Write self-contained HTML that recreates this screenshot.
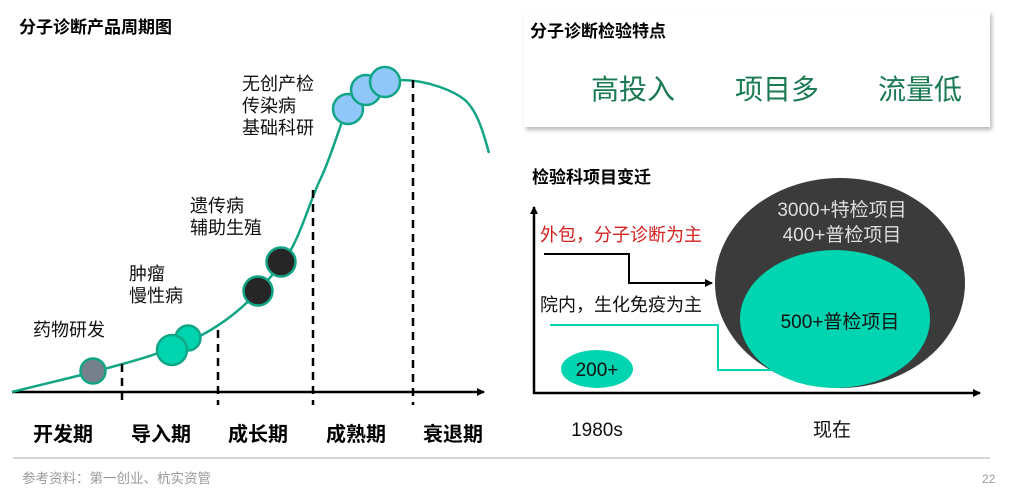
<!DOCTYPE html>
<html><head><meta charset="utf-8"><style>
html,body{margin:0;padding:0;background:#fff;width:1024px;height:496px;overflow:hidden}
svg text{font-family:"Liberation Sans","Noto Sans CJK SC",sans-serif}
</style></head><body>
<svg width="1024" height="496" viewBox="0 0 1024 496" xmlns="http://www.w3.org/2000/svg">
<defs>
<marker id="ah" markerWidth="8" markerHeight="8" refX="7" refY="4" orient="auto" markerUnits="userSpaceOnUse"><path d="M0,0 L8,4 L0,8 z" fill="#000"/></marker>
<filter id="sh" x="-5%" y="-10%" width="110%" height="130%"><feDropShadow dx="2" dy="3" stdDeviation="2" flood-color="#888" flood-opacity="0.6"/></filter>
</defs>
<text x="19" y="33" font-size="17" font-weight="bold">分子诊断产品周期图</text>
<line x1="12" y1="392" x2="484" y2="392" stroke="#000" stroke-width="2.5" marker-end="url(#ah)"/>
<path d="M12,392 C40,385 70,378 93,372 C130,362 160,355 200,336 C240,315 260,290 283,262 C300,240 310,200 320,180 C330,160 340,125 350,100 C360,85 380,80 400,80 C430,80 455,92 465,100 C478,112 484,135 489,153" fill="none" stroke="#12a585" stroke-width="2.5"/>
<g stroke="#000" stroke-width="2.5" stroke-dasharray="8,6">
<line x1="122" y1="364" x2="122" y2="405"/>
<line x1="218" y1="330" x2="218" y2="405"/>
<line x1="313" y1="190" x2="313" y2="405"/>
<line x1="413" y1="80" x2="413" y2="405"/>
</g>
<g stroke="#12a585" stroke-width="2.5">
<circle cx="93" cy="371" r="12.5" fill="#76808c"/>
<circle cx="188" cy="338" r="12.5" fill="#00d4ae"/>
<circle cx="172" cy="350" r="15" fill="#00d4ae"/>
<circle cx="258" cy="291" r="14.5" fill="#262626"/>
<circle cx="281" cy="262" r="14.5" fill="#262626"/>
<circle cx="348" cy="109" r="15" fill="#8fc8f8"/>
<circle cx="366" cy="90" r="15" fill="#8fc8f8"/>
<circle cx="385" cy="82" r="15" fill="#8fc8f8"/>
</g>
<g font-size="18" fill="#111">
<text x="33" y="336">药物研发</text>
<text x="129" y="280">肿瘤</text>
<text x="129" y="302">慢性病</text>
<text x="190" y="212">遗传病</text>
<text x="190" y="234">辅助生殖</text>
<text x="242" y="90">无创产检</text>
<text x="242" y="112">传染病</text>
<text x="242" y="134">基础科研</text>
</g>
<g font-size="20" font-weight="bold">
<text x="33" y="441">开发期</text>
<text x="131" y="441">导入期</text>
<text x="228" y="441">成长期</text>
<text x="326" y="441">成熟期</text>
<text x="423" y="441">衰退期</text>
</g>
<line x1="13" y1="458" x2="990" y2="458" stroke="#aab0bb" stroke-width="1"/>
<text x="22" y="483" font-size="13.5" fill="#999">参考资料：第一创业、杭实资管</text>
<text x="982" y="483" font-size="12" fill="#999">22</text>

<rect x="524" y="11" width="466" height="116" fill="#fff" filter="url(#sh)"/>
<text x="530" y="37" font-size="17" font-weight="bold">分子诊断检验特点</text>
<g font-size="28" fill="#1a7a52" text-anchor="middle">
<text x="633" y="99">高投入</text>
<text x="777" y="99">项目多</text>
<text x="920" y="99">流量低</text>
</g>

<text x="532" y="183" font-size="17" font-weight="bold">检验科项目变迁</text>
<line x1="534" y1="394" x2="534" y2="207" stroke="#000" stroke-width="2.5" marker-end="url(#ah)"/>
<line x1="533" y1="393" x2="980" y2="393" stroke="#000" stroke-width="2.5" marker-end="url(#ah)"/>
<ellipse cx="840" cy="283" rx="125" ry="105" fill="#3b3b3b"/>
<ellipse cx="835" cy="319" rx="95" ry="69" fill="#00d4b0"/>
<text x="842" y="216" font-size="19" fill="#ddd" text-anchor="middle">3000+特检项目</text>
<text x="842" y="241" font-size="19" fill="#ddd" text-anchor="middle">400+普检项目</text>
<text x="840" y="328" font-size="19" fill="#111" text-anchor="middle">500+普检项目</text>
<text x="540" y="241" font-size="18" fill="#d42020">外包，分子诊断为主</text>
<polyline points="544,254 629,254 629,283 712,283" fill="none" stroke="#000" stroke-width="2" marker-end="url(#ah)"/>
<text x="540" y="311" font-size="18" fill="#111">院内，生化免疫为主</text>
<polyline points="550,325 718,325 718,370 775,370" fill="none" stroke="#00d4b0" stroke-width="2"/>
<ellipse cx="597" cy="369" rx="36" ry="19" fill="#00d4b0"/>
<text x="597" y="376" font-size="19" fill="#111" text-anchor="middle">200+</text>
<text x="597" y="436" font-size="19" fill="#111" text-anchor="middle">1980s</text>
<text x="832" y="436" font-size="19" fill="#111" text-anchor="middle">现在</text>
</svg>
</body></html>
